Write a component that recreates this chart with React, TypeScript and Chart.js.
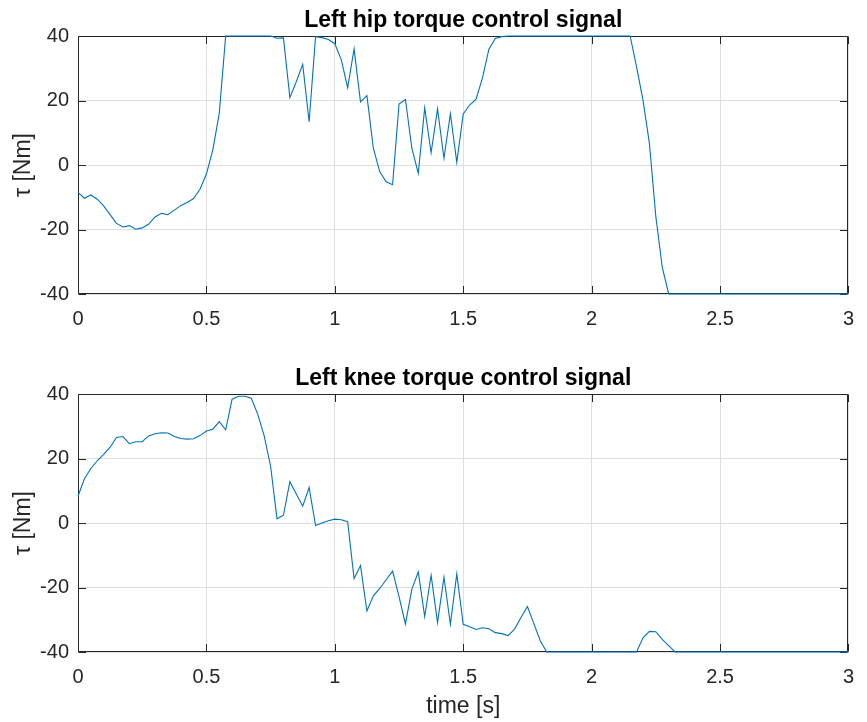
import React, { useEffect, useRef } from "react";
import { Chart, registerables } from "chart.js";

Chart.register(...registerables);

const TIME = [
  0, 0.025, 0.05, 0.075, 0.1, 0.125, 0.15, 0.175, 0.2, 0.225,
  0.25, 0.275, 0.3, 0.325, 0.35, 0.375, 0.4, 0.425, 0.45, 0.475,
  0.5, 0.525, 0.55, 0.575, 0.6, 0.625, 0.65, 0.675, 0.7, 0.725,
  0.75, 0.775, 0.8, 0.825, 0.85, 0.875, 0.9, 0.925, 0.95, 0.975,
  1.0, 1.025, 1.05, 1.075, 1.1, 1.125, 1.15, 1.175, 1.2, 1.225,
  1.25, 1.275, 1.3, 1.325, 1.35, 1.375, 1.4, 1.425, 1.45, 1.475,
  1.5, 1.525, 1.55, 1.575, 1.6, 1.625, 1.65, 1.675, 1.7, 1.725,
  1.75, 1.775, 1.8, 1.825, 1.85, 1.875, 1.9, 1.925, 1.95, 1.975,
  2.0, 2.025, 2.05, 2.075, 2.1, 2.125, 2.15, 2.175, 2.2, 2.225,
  2.25, 2.275, 2.3, 2.325, 2.35, 2.375, 2.4, 2.425, 2.45, 2.475,
  2.5, 2.525, 2.55, 2.575, 2.6, 2.625, 2.65, 2.675, 2.7, 2.725,
  2.75, 2.775, 2.8, 2.825, 2.85, 2.875, 2.9, 2.925, 2.95, 2.975,
  3.0,
];

const HIP_TORQUE = [
  -8.5, -10.3, -9.3, -10.6, -12.7, -15.4, -18.1, -19.2, -18.8, -19.9,
  -19.5, -18.4, -16.1, -15.0, -15.4, -14.0, -12.6, -11.6, -10.4, -7.5,
  -2.8, 4.7, 16.0, 40, 40, 40, 40, 40, 40, 40,
  40, 39.3, 39.4, 20.9, 25.8, 31.2, 13.4, 39.8, 39.5, 38.9,
  37.6, 32.7, 24.0, 36.0, 19.6, 21.5, 5.2, -2.1, -5.2, -6.1,
  18.9, 20.3, 5.2, -2.6, 17.7, 3.8, 17.4, 2.1, 15.9, 0.8,
  15.8, 18.6, 20.4, 27.0, 35.9, 39.2, 39.8, 40, 40, 40,
  40, 40, 40, 40, 40, 40, 40, 40, 40, 40,
  40, 40, 40, 40, 40, 40, 40, 30.4, 20.1, 6.7,
  -16.0, -31.7, -40, -40, -40, -40, -40, -40, -40, -40,
  -40, -40, -40, -40, -40, -40, -40, -40, -40, -40,
  -40, -40, -40, -40, -40, -40, -40, -40, -40, -40,
  -40,
];

const KNEE_TORQUE = [
  8.3, 13.7, 16.9, 19.3, 21.3, 23.5, 26.5, 26.8, 24.6, 25.2,
  25.2, 27.0, 27.7, 28.0, 27.9, 26.8, 26.2, 26.0, 26.1, 27.1,
  28.5, 29.1, 31.4, 28.9, 38.4, 39.3, 39.3, 38.7, 33.7, 27.0,
  17.6, 1.3, 2.4, 12.8, 9.0, 5.2, 11.0, -0.8, 0.0, 0.7,
  1.2, 1.0, 0.4, -17.2, -13.2, -27.3, -22.6, -20.3, -17.6, -14.9,
  -22.8, -31.3, -20.5, -15.2, -29.0, -16.2, -30.9, -16.8, -31.4, -15.8,
  -31.4, -32.2, -33.0, -32.5, -32.8, -34.0, -34.3, -34.9, -32.9, -29.3,
  -25.9, -31.2, -36.5, -40, -40, -40, -40, -40, -40, -40,
  -40, -40, -40, -40, -40, -40, -40, -40, -35.6, -33.6,
  -33.7, -36.1, -38.0, -40, -40, -40, -40, -40, -40, -40,
  -40, -40, -40, -40, -40, -40, -40, -40, -40, -40,
  -40, -40, -40, -40, -40, -40, -40, -40, -40, -40,
  -40,
];

const X_TICKS = [0, 0.5, 1, 1.5, 2, 2.5, 3];
const Y_TICKS = [-40, -20, 0, 20, 40];
const TITLES = ["Left hip torque control signal", "Left knee torque control signal"];
const Y_LABEL = "τ [Nm]";
const X_LABEL = "time [s]";

const FONT = "'Liberation Sans', Arial, Helvetica, sans-serif";
const AXIS_COLOR = "#262626";
const GRID_COLOR = "#dfdfdf";
const LINE_COLOR = "#0072BD";
const WIDTH = 867;

const matlabAxes = {
  id: "matlabAxes",
  beforeDatasetsDraw(chart: any) {
    const { ctx, chartArea } = chart;
    const xs = chart.scales.x;
    const ys = chart.scales.y;
    const l = Math.round(chartArea.left) + 0.5;
    const r = Math.round(chartArea.right) - 0.5;
    const t = Math.round(chartArea.top) + 0.5;
    const b = Math.round(chartArea.bottom) - 0.5;
    const tl = 7.5;
    ctx.save();
    ctx.strokeStyle = AXIS_COLOR;
    ctx.lineWidth = 1;
    ctx.beginPath();
    ctx.rect(l, t, r - l, b - t);
    X_TICKS.forEach((v) => {
      const px = Math.round(xs.getPixelForValue(v)) + 0.5;
      ctx.moveTo(px, b);
      ctx.lineTo(px, b - tl);
      ctx.moveTo(px, t);
      ctx.lineTo(px, t + tl);
    });
    Y_TICKS.forEach((v) => {
      const py = Math.round(ys.getPixelForValue(v)) + 0.5;
      ctx.moveTo(l, py);
      ctx.lineTo(l + tl, py);
      ctx.moveTo(r, py);
      ctx.lineTo(r - tl, py);
    });
    ctx.stroke();
    ctx.restore();
  },
  afterDraw(chart: any, _args: any, opts: any) {
    const { ctx, chartArea } = chart;
    ctx.save();
    ctx.font = `bold 23px ${FONT}`;
    ctx.fillStyle = "#000000";
    ctx.textAlign = "center";
    ctx.textBaseline = "alphabetic";
    ctx.fillText(opts.text, (chartArea.left + chartArea.right) / 2, chartArea.top - 9);
    ctx.restore();
  },
};

function TorquePlot(props: {
  values: number[];
  title: string;
  height: number;
  top: number;
  xAxisHeight: number;
  showXLabel: boolean;
}) {
  const ref = useRef<HTMLCanvasElement>(null);
  useEffect(() => {
    if (!ref.current) return;
    const chart = new Chart(ref.current, {
      type: "line",
      data: {
        datasets: [
          {
            data: TIME.map((t, i) => ({ x: t, y: props.values[i] })),
            borderColor: LINE_COLOR,
            borderWidth: 1.1,
            pointRadius: 0,
            tension: 0,
            fill: false,
            clip: false,
          },
        ],
      },
      options: {
        responsive: false,
        animation: false,
        devicePixelRatio: 1,
        layout: { padding: { left: 0, right: 8, top: props.top, bottom: 0 } },
        plugins: {
          legend: { display: false },
          tooltip: { enabled: false },
          title: { display: false },
          matlabAxes: { text: props.title },
        } as any,
        scales: {
          x: {
            type: "linear",
            min: 0,
            max: 3,
            afterBuildTicks: (s: any) => {
              s.ticks = X_TICKS.map((v) => ({ value: v }));
            },
            afterFit: (s: any) => {
              s.height = props.xAxisHeight;
            },
            ticks: {
              autoSkip: false,
              maxRotation: 0,
              padding: 13,
              color: AXIS_COLOR,
              font: { family: FONT, size: 20 },
              callback: (v: any) => String(v),
            },
            grid: { color: GRID_COLOR, lineWidth: 1, drawTicks: false },
            border: { display: false },
            title: {
              display: props.showXLabel,
              text: X_LABEL,
              color: AXIS_COLOR,
              font: { family: FONT, size: 23 },
              padding: { top: 0, bottom: 2 },
            },
          },
          y: {
            type: "linear",
            min: -40,
            max: 40,
            afterBuildTicks: (s: any) => {
              s.ticks = Y_TICKS.map((v) => ({ value: v }));
            },
            afterFit: (s: any) => {
              s.width = 78;
            },
            ticks: {
              autoSkip: false,
              padding: 9,
              color: AXIS_COLOR,
              font: { family: FONT, size: 20 },
              callback: (v: any) => String(v),
            },
            grid: { color: GRID_COLOR, lineWidth: 1, drawTicks: false },
            border: { display: false },
            title: {
              display: true,
              text: Y_LABEL,
              color: AXIS_COLOR,
              font: { family: FONT, size: 23 },
              padding: { top: 10, bottom: 0 },
            },
          },
        },
      } as any,
      plugins: [matlabAxes],
    });
    return () => chart.destroy();
  }, []);
  return (
    <canvas
      ref={ref}
      width={WIDTH}
      height={props.height}
      style={{ display: "block", width: WIDTH, height: props.height }}
    />
  );
}

export default function App() {
  return (
    <div
      style={{
        position: "fixed",
        left: 0,
        top: 0,
        width: WIDTH,
        height: 722,
        background: "#ffffff",
      }}
    >
      <TorquePlot values={HIP_TORQUE} title={TITLES[0]} height={340} top={36} xAxisHeight={46} showXLabel={false} />
      <TorquePlot values={KNEE_TORQUE} title={TITLES[1]} height={382} top={54} xAxisHeight={70} showXLabel={true} />
    </div>
  );
}
